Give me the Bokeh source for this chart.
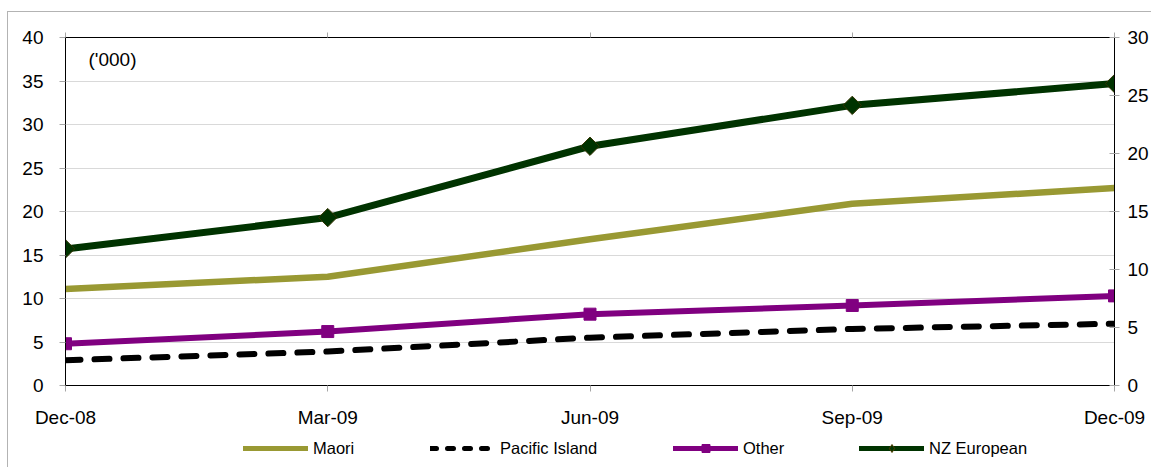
import math
from bokeh.plotting import figure
from bokeh.models import (Range1d, LinearAxis, FixedTicker, Legend, LegendItem, Label)
from bokeh.layouts import column
from bokeh.embed import file_html
from bokeh.resources import INLINE

categories = ["Dec-08", "Mar-09", "Jun-09", "Sep-09", "Dec-09"]
maori = [11.1, 12.5, 16.8, 20.9, 22.7]
pacific_island = [2.9, 3.9, 5.5, 6.5, 7.1]
other = [4.8, 6.2, 8.2, 9.2, 10.3]
nz_european = [15.7, 19.3, 27.5, 32.2, 34.7]
left_ticks = [0, 5, 10, 15, 20, 25, 30, 35, 40]
right_ticks = [0, 5, 10, 15, 20, 25, 30]
series_names = ["Maori", "Pacific Island", "Other", "NZ European"]

FONT = "Liberation Sans"
W = 1151
BL, BR = 65, 35
BORDER = "#b3b3b3"
x = list(range(len(categories)))

outer_main = (f"linear-gradient({BORDER},{BORDER}) 7px 11px / 1px 100% no-repeat, "
              f"linear-gradient({BORDER},{BORDER}) 7px 11px / 100% 1px no-repeat, white")
outer_leg = f"linear-gradient({BORDER},{BORDER}) 7px 0px / 1px 100% no-repeat, white"

p = figure(width=W, height=430, output_backend="svg", toolbar_location=None,
           x_range=Range1d(0, len(categories) - 1), y_range=Range1d(0, 40),
           min_border_left=BL, min_border_right=BR, min_border_top=37, min_border_bottom=44,
           x_axis_location=None, y_axis_location=None,
           styles={"background": outer_main})
p.extra_y_ranges = {"right": Range1d(0, 30)}
p.outline_line_color = "black"
p.outline_line_width = 1
p.background_fill_color = "white"
p.border_fill_color = None

def style_axis(ax):
    ax.axis_line_color = "black"
    ax.major_tick_line_color = "#a6a6a6"
    ax.minor_tick_line_color = None
    ax.major_label_text_font = FONT
    ax.major_label_text_font_size = "19px"
    ax.major_label_text_color = "black"

# bottom axis
xb = LinearAxis(ticker=FixedTicker(ticks=x),
                major_label_overrides={i: c for i, c in enumerate(categories)})
style_axis(xb)
xb.major_tick_in = 0
xb.major_tick_out = 6
xb.major_label_standoff = 15
p.add_layout(xb, "below")

# top axis (ticks only)
xt = LinearAxis(ticker=FixedTicker(ticks=x),
                major_label_overrides={i: "" for i in x})
style_axis(xt)
xt.major_tick_in = 0
xt.major_tick_out = 5
xt.major_label_standoff = 0
p.add_layout(xt, "above")

# left axis
yl = LinearAxis(ticker=FixedTicker(ticks=left_ticks))
style_axis(yl)
yl.major_tick_in = 0
yl.major_tick_out = 6
yl.major_label_standoff = 16
p.add_layout(yl, "left")

# right axis
yr = LinearAxis(y_range_name="right", ticker=FixedTicker(ticks=right_ticks))
style_axis(yr)
yr.major_tick_in = 5
yr.major_tick_out = 5
yr.major_label_standoff = 8
p.add_layout(yr, "right")

p.xgrid.visible = False
p.ygrid.ticker = FixedTicker(ticks=left_ticks)
p.ygrid.grid_line_color = "#d9d9d9"
p.ygrid.grid_line_width = 1

styles = {
    "Maori": dict(line=dict(line_color="#999933", line_width=6.5), marker=None),
    "Pacific Island": dict(line=dict(line_color="black", line_width=6, line_dash="15 14"), marker=None),
    "Other": dict(line=dict(line_color="#800080", line_width=6),
                  marker=dict(marker="square", size=12, fill_color="#800080", line_color="#800080")),
    "NZ European": dict(line=dict(line_color="#003300", line_width=7),
                        marker=dict(marker="square", angle=math.pi / 4, size=13,
                                    fill_color="#003300", line_color="#333300", line_width=1)),
}
legend_styles = {
    "Maori": dict(line=dict(line_color="#999933", line_width=5), marker=None),
    "Pacific Island": dict(line=dict(line_color="black", line_width=5, line_dash="6 11"), marker=None),
    "Other": dict(line=dict(line_color="#800080", line_width=5),
                  marker=dict(marker="square", size=8, fill_color="#800080", line_color="#800080")),
    "NZ European": dict(line=dict(line_color="#003300", line_width=5),
                        marker=dict(marker="diamond", size=10, fill_color="#003300",
                                    line_color="#4d3d00", line_width=1)),
}
values = {"Maori": maori, "Pacific Island": pacific_island, "Other": other,
          "NZ European": nz_european}

for name in series_names:
    st = styles[name]
    p.line(x, values[name], line_cap="round", line_join="round", **st["line"])
    if st["marker"]:
        p.scatter(x, values[name], **st["marker"])

p.add_layout(Label(x=23, y=326, x_units="screen", y_units="screen", text="('000)",
                   text_font=FONT, text_font_size="19px", text_baseline="middle",
                   text_color="black"))

# legend strip below the chart (series drawn out of its visible range, only keys show)
lgf = figure(width=W, height=37, output_backend="svg", toolbar_location=None,
             min_border_left=BL, min_border_right=BR, min_border_top=0, min_border_bottom=0,
             x_axis_location=None, y_axis_location=None,
             x_range=Range1d(0, 1), y_range=Range1d(-2, -1),
             styles={"background": outer_leg})
lgf.outline_line_color = None
lgf.grid.visible = False
lgf.background_fill_alpha = 0
lgf.border_fill_color = None

legend_x = {"Maori": 243, "Pacific Island": 430, "Other": 673, "NZ European": 859}
for name in series_names:
    st = legend_styles[name]
    rends = [lgf.line(x, values[name], line_cap="round", **st["line"])]
    if st["marker"]:
        rends.append(lgf.scatter(x, values[name], **st["marker"]))
    lg = Legend(items=[LegendItem(label=name, renderers=rends)],
                location=(legend_x[name] - BL, 9), orientation="horizontal",
                glyph_width=65, glyph_height=20, label_standoff=5,
                padding=0, margin=0, border_line_color=None,
                background_fill_alpha=0, label_text_font=FONT,
                label_text_font_size="16.5px", label_text_color="black")
    lgf.add_layout(lg, "center")

layout = column(p, lgf, spacing=0)
open("out.html", "w").write(file_html(layout, INLINE))
